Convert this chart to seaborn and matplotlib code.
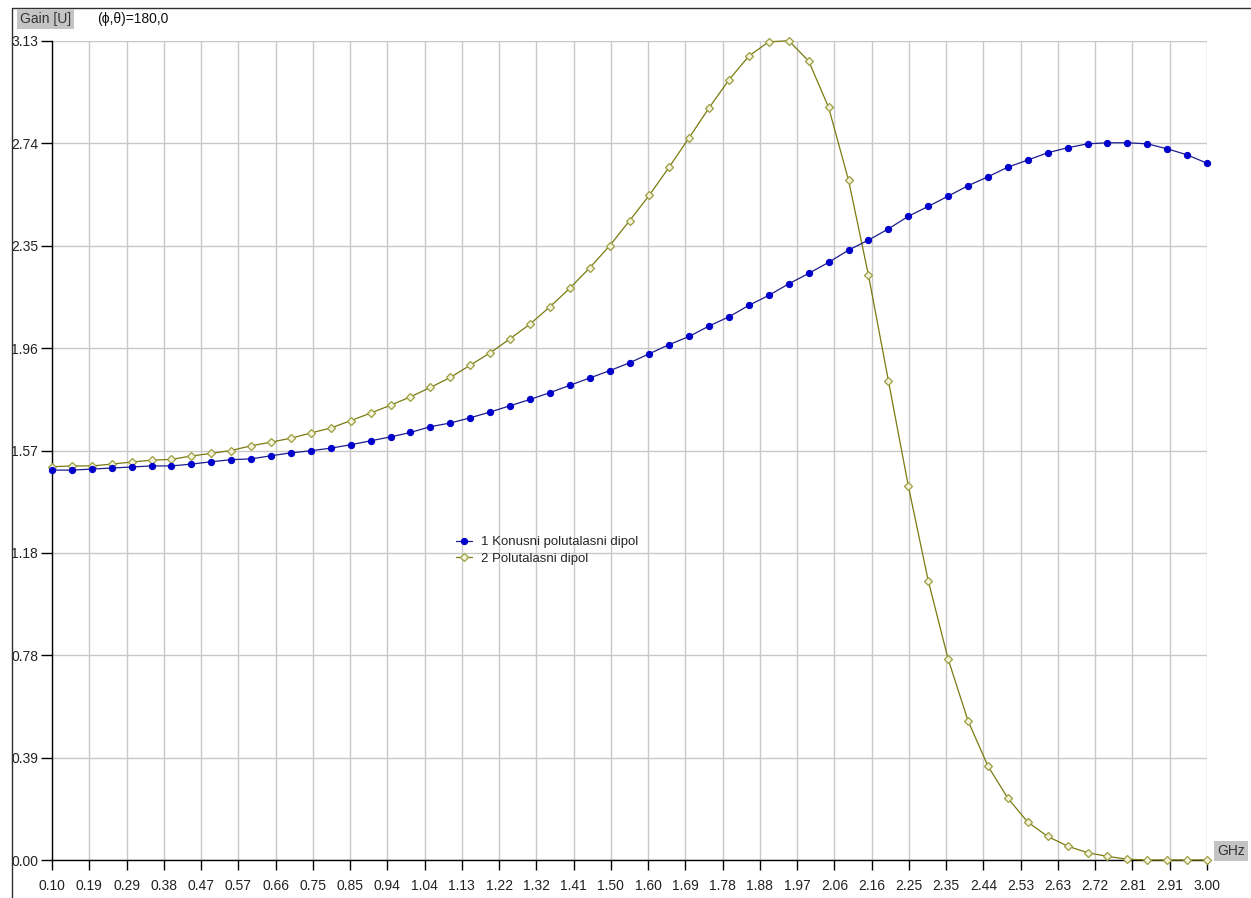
import numpy as np
import pandas as pd
import matplotlib.pyplot as plt
from matplotlib.lines import Line2D
import seaborn as sns

# frequency sweep, GHz
freq = np.round(np.arange(0.10, 3.0001, 0.05), 2)

# 1 Konusni polutalasni dipol
gain_konusni = [
    1.490, 1.490, 1.494, 1.498, 1.502, 1.506, 1.506, 1.513, 1.522, 1.530,
    1.533, 1.545, 1.556, 1.564, 1.574, 1.587, 1.602, 1.617, 1.634, 1.656,
    1.670, 1.690, 1.712, 1.736, 1.760, 1.786, 1.814, 1.842, 1.870, 1.900,
    1.935, 1.970, 2.001, 2.041, 2.076, 2.120, 2.158, 2.202, 2.242, 2.284,
    2.331, 2.369, 2.412, 2.460, 2.498, 2.537, 2.577, 2.611, 2.648, 2.675,
    2.703, 2.722, 2.737, 2.741, 2.741, 2.737, 2.718, 2.695, 2.663,
]

# 2 Polutalasni dipol
gain_polutalasni = [
    1.503, 1.506, 1.506, 1.513, 1.521, 1.528, 1.531, 1.544, 1.554, 1.565,
    1.583, 1.597, 1.612, 1.632, 1.651, 1.679, 1.708, 1.738, 1.770, 1.806,
    1.844, 1.891, 1.938, 1.992, 2.048, 2.114, 2.185, 2.263, 2.347, 2.443,
    2.541, 2.649, 2.761, 2.875, 2.982, 3.073, 3.127, 3.131, 3.053, 2.876,
    2.598, 2.235, 1.832, 1.430, 1.068, 0.768, 0.532, 0.359, 0.236, 0.145,
    0.090, 0.053, 0.028, 0.014, 0.003, 0.0, 0.0, 0.0, 0.0,
]

x_tick_labels = ['0.10', '0.19', '0.29', '0.38', '0.47', '0.57', '0.66', '0.75',
                 '0.85', '0.94', '1.04', '1.13', '1.22', '1.32', '1.41', '1.50',
                 '1.60', '1.69', '1.78', '1.88', '1.97', '2.06', '2.16', '2.25',
                 '2.35', '2.44', '2.53', '2.63', '2.72', '2.81', '2.91', '3.00']
y_tick_labels = ['0.00', '0.39', '0.78', '1.18', '1.57', '1.96', '2.35', '2.74', '3.13']

sns.set_style('white')
plt.rcParams['font.family'] = ['Liberation Sans', 'DejaVu Sans']
plt.rcParams['font.size'] = 10

W, H = 1251, 898
fig = plt.figure(figsize=(W / 100, H / 100), dpi=100)
ax = fig.add_axes([52 / W, 38 / H, (1207 - 52) / W, (857 - 38) / H])

df = pd.DataFrame({'GHz': freq, 'konusni': gain_konusni, 'polutalasni': gain_polutalasni})

sns.lineplot(data=df, x='GHz', y='konusni', ax=ax, color='#1c1c8c', linewidth=0.9,
             marker='o', markersize=4.5, markerfacecolor='#0000cc', markeredgecolor='#0000cc',
             clip_on=False, zorder=4, label='1 Konusni polutalasni dipol')
sns.lineplot(data=df, x='GHz', y='polutalasni', ax=ax, color='#7a7a10', linewidth=0.9,
             marker='D', markersize=4.2, markerfacecolor='#f4f4dc', markeredgecolor='#9c9c40',
             markeredgewidth=0.9, clip_on=False, zorder=3, label='2 Polutalasni dipol')

ax.set_xlim(0.10, 3.00)
ax.set_ylim(0, 3.13)
ax.set_xticks(np.linspace(0.10, 3.00, len(x_tick_labels)))
ax.set_xticklabels(x_tick_labels)
ax.set_yticks(np.linspace(0, 3.13, len(y_tick_labels)))
ax.set_yticklabels(y_tick_labels)
ax.set_xlabel('')
ax.set_ylabel('')

ax.grid(True, color='#c8c8c8', linewidth=1.0)
ax.set_axisbelow(True)
for side in ['top', 'right']:
    ax.spines[side].set_visible(False)
for side in ['left', 'bottom']:
    ax.spines[side].set_color('black')
    ax.spines[side].set_linewidth(1.0)

ax.tick_params(axis='x', direction='out', length=7.5, width=1, color='black',
               pad=6, labelsize=10, labelcolor='#222222', bottom=True)
ax.tick_params(axis='y', direction='out', length=8, width=1, color='black',
               pad=2, labelsize=10, labelcolor='#222222', left=True)

leg = ax.legend(loc='upper left', bbox_to_anchor=(456 / W, 1 - 536 / H),
                bbox_transform=fig.transFigure, frameon=False, fontsize=9.5,
                handlelength=1.2, handletextpad=0.7, labelspacing=0.35,
                borderpad=0, borderaxespad=0)

# header and axis unit boxes
fig.text(20 / W, 1 - 19 / H, 'Gain [U]', va='center', ha='left', fontsize=10,
         color='#333333', bbox=dict(facecolor='#c4c4c4', edgecolor='none', pad=2))
fig.text(97 / W, 1 - 19 / H, '(ϕ,θ)=180,0', va='center', ha='left', fontsize=10,
         color='#111111')
fig.text(1217 / W, 1 - 851 / H, 'GHz', va='center', ha='left', fontsize=10,
         color='#333333', bbox=dict(facecolor='#c4c4c4', edgecolor='none', pad=2))

# window frame
fig.add_artist(Line2D([12 / W, 12 / W], [0, 1 - 8 / H], transform=fig.transFigure,
                      color='#303030', linewidth=1))
fig.add_artist(Line2D([12 / W, 1], [1 - 8 / H, 1 - 8 / H], transform=fig.transFigure,
                      color='#303030', linewidth=1))

fig.savefig('out.png', dpi=100)
